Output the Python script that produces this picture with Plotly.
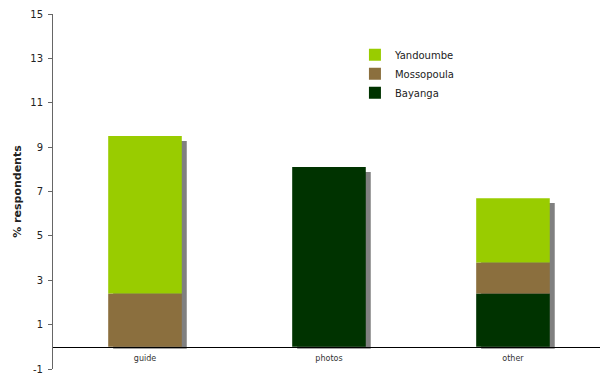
import numpy as np
import plotly.graph_objects as go

categories = ["guide", "photos", "other"]
bayanga = [0.0, 8.1, 2.4]
mossopoula = [2.4, 0.0, 1.4]
yandoumbe = [7.1, 0.0, 2.9]

series = [
    ("Bayanga", bayanga, "#003300"),
    ("Mossopoula", mossopoula, "#8B6F3E"),
    ("Yandoumbe", yandoumbe, "#99CC00"),
]

y_ticks = [-1, 1, 3, 5, 7, 9, 11, 13, 15]
y_tick_labels = [str(t) for t in y_ticks]

bar_w = 0.40
shadow_dx = 0.027
shadow_dy = 0.22

totals = np.sum([np.array(v) for _, v, _ in series], axis=0)

fig = go.Figure()

# drop shadow behind each stacked column
fig.add_trace(go.Bar(
    x=categories, y=totals - shadow_dy + 0.09, base=-0.09,
    width=bar_w, offset=-bar_w / 2 + shadow_dx,
    marker=dict(color="#808080", line=dict(width=0)),
    showlegend=False, hoverinfo="skip",
))

base = np.zeros(len(categories))
for name, vals, color in series:
    vals = np.array(vals)
    fig.add_trace(go.Bar(
        x=categories, y=vals, base=base.copy(), name=name,
        width=bar_w, offset=-bar_w / 2,
        marker=dict(color=color, line=dict(width=0)),
    ))
    base = base + vals

fig.update_layout(
    width=600, height=376,
    margin=dict(l=53, r=0, t=14, b=7),
    barmode="overlay",
    paper_bgcolor="white", plot_bgcolor="white",
    font=dict(family="DejaVu Sans", color="#222222"),
    legend=dict(
        x=0.552, y=0.926, xanchor="left", yanchor="top",
        traceorder="reversed", font=dict(size=10, color="#222222"),
        itemwidth=30, tracegroupgap=0, bgcolor="rgba(0,0,0,0)",
    ),
    xaxis=dict(
        range=[-0.5, 2.473], showgrid=False, zeroline=False,
        anchor="free", position=1 / 16,
        showline=True, linecolor="black", linewidth=1,
        ticks="", ticklabelstandoff=4,
        tickfont=dict(size=8, color="#333333"),
    ),
    yaxis=dict(
        range=[-1, 15], tickvals=y_ticks, ticktext=y_tick_labels,
        showgrid=False, zeroline=False,
        showline=True, linecolor="#666666", linewidth=1,
        ticks="outside", ticklen=4, tickcolor="#666666",
        ticklabelstandoff=3,
        tickfont=dict(size=10, color="#222222"),
        title=dict(text="<b>% respondents</b>", font=dict(size=11), standoff=6),
    ),
)

fig.write_html("out.html")
